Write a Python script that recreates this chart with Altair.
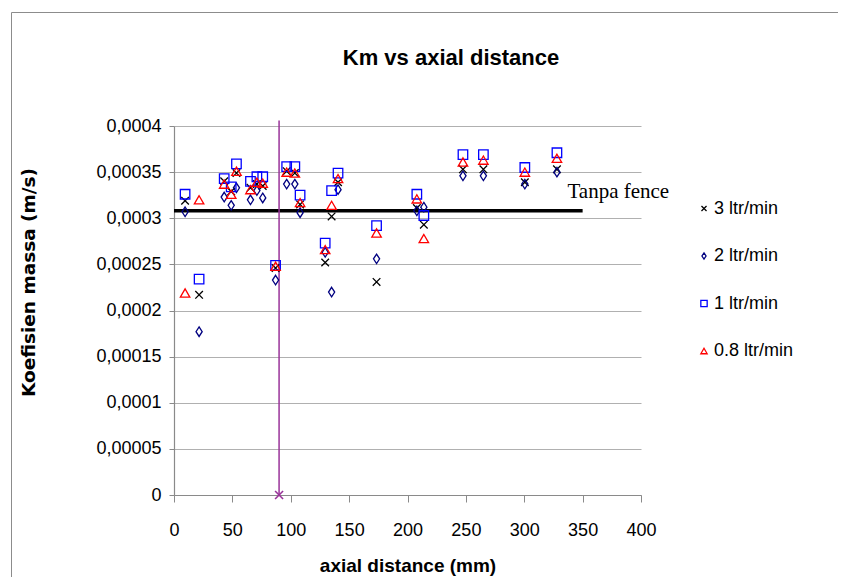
import altair as alt
import pandas as pd

# ---- data ----
axial_mm = [9.5, 21.5, 43, 49, 53.5, 65.5, 71, 76, 87, 96.5, 103.5, 108,
            129.5, 135, 140.5, 173.5, 208, 214, 247.5, 265, 300.5, 328]

km_3 = [3.19, 2.17, 3.40, 3.29, 3.49, 3.33, 3.37, 3.35, 2.46, 3.51, 3.49, 3.15,
        2.52, 3.02, 3.39, 2.31, 3.11, 2.93, 3.53, 3.53, 3.39, 3.53]
km_2 = [3.07, 1.77, 3.23, 3.14, 3.33, 3.20, 3.30, 3.22, 2.33, 3.37, 3.37, 3.06,
        2.63, 2.20, 3.31, 2.56, 3.08, 3.12, 3.46, 3.46, 3.37, 3.50]
km_1 = [3.26, 2.34, 3.43, 3.34, 3.59, 3.40, 3.45, 3.45, 2.49, 3.56, 3.56, 3.25,
        2.73, 3.30, 3.49, 2.92, 3.26, 3.03, 3.69, 3.69, 3.55, 3.71]
km_08 = [2.19, 3.20, 3.37, 3.26, 3.51, 3.31, 3.39, 3.38, 2.48, 3.50, 3.49, 3.17,
         2.66, 3.14, 3.43, 2.84, 3.21, 2.78, 3.61, 3.63, 3.50, 3.65]
scale_factor = 1e-4

series_names = ["3 ltr/min", "2 ltr/min", "1 ltr/min", "0.8 ltr/min"]
series_values = [km_3, km_2, km_1, km_08]
series_colors = ["#000000", "#000080", "#0000FF", "#FF0000"]
series_shapes = ["M-0.8,-0.8L0.8,0.8M0.8,-0.8L-0.8,0.8",
                 "M0,-1L0.65,0L0,1L-0.65,0Z",
                 "square",
                 "triangle-up"]

fence_value = 0.000308
fence_x = [0, 350]
fence_label = "Tanpa fence"
fence_label_pos = (337, 0.000322)

marker_x = 90
marker_top = 0.000406

x_ticks = [0, 50, 100, 150, 200, 250, 300, 350, 400]
y_ticks = [0, 0.00005, 0.0001, 0.00015, 0.0002, 0.00025, 0.0003, 0.00035, 0.0004]

title_text = "Km vs axial distance"
x_title = "axial distance (mm)"
y_title = "Koefisien massa (m/s)"

# ---- tables ----
rows = []
for name, vals in zip(series_names, series_values):
    for xv, yv in zip(axial_mm, vals):
        rows.append({"x": xv, "y": yv * scale_factor, "series": name})
pts = pd.DataFrame(rows)

sans = "Liberation Sans, Arial, sans-serif"

xscale = alt.Scale(domain=[0, 400], nice=False, zero=False)
yscale = alt.Scale(domain=[0, 0.0004], nice=False)

xaxis = alt.Axis(values=x_ticks, title=x_title, grid=False, tickSize=7,
                 labelPadding=19, labelFontSize=18, labelFont=sans,
                 titleFont=sans, titleFontSize=19, titleFontWeight="bold",
                 titleY=76, titleBaseline="alphabetic", labelFlush=False)
yaxis = alt.Axis(values=y_ticks, title=y_title, grid=True, tickSize=5,
                 labelPadding=8, labelFontSize=18, labelFont=sans,
                 labelExpr="replace(format(datum.value, '.5~f'), '.', ',')",
                 titleFont="DejaVu Sans", titleFontSize=18.5,
                 titleFontWeight="bold", titleX=-146, titleY=156,
                 titleAlign="center", titleBaseline="middle", titleAngle=270)

one = alt.Data(values=[{}])
frame_left = alt.Chart(one).mark_rule(color="#8c8c8c", strokeWidth=1).encode(
    x=alt.value(-162.5), y=alt.value(-113.5), y2=alt.value(600))
frame_top = alt.Chart(one).mark_rule(color="#8c8c8c", strokeWidth=1).encode(
    x=alt.value(-162.5), x2=alt.value(700), y=alt.value(-113.5))

title_mark = alt.Chart(one).mark_text(
    text=title_text, font=sans, fontSize=22, fontWeight="bold",
    align="center", baseline="alphabetic", color="#000000"
).encode(x=alt.value(277), y=alt.value(-61))

scatter = alt.Chart(pts).mark_point(filled=False, strokeWidth=1.3, opacity=1,
                                    size=90).encode(
    x=alt.X("x:Q", scale=xscale, axis=xaxis),
    y=alt.Y("y:Q", scale=yscale, axis=yaxis),
    color=alt.Color("series:N",
                    scale=alt.Scale(domain=series_names, range=series_colors),
                    legend=alt.Legend(title=None, orient="none", legendX=521,
                                      legendY=73.5, labelFont=sans,
                                      labelFontSize=18, rowPadding=29.5,
                                      symbolSize=40, labelOffset=1,
                                      symbolStrokeWidth=1.3, padding=0,
                                      labelColor="#000000")),
    shape=alt.Shape("series:N",
                    scale=alt.Scale(domain=series_names, range=series_shapes)),
)

fence_df = pd.DataFrame({"x": [fence_x[0]], "x2": [fence_x[1]], "y": [fence_value]})
fence = alt.Chart(fence_df).mark_rule(color="#000000", strokeWidth=3.5).encode(
    x=alt.X("x:Q", scale=xscale), x2="x2:Q", y=alt.Y("y:Q", scale=yscale)
)

fence_text_df = pd.DataFrame({"x": [fence_label_pos[0]], "y": [fence_label_pos[1]],
                              "t": [fence_label]})
fence_text = alt.Chart(fence_text_df).mark_text(
    font="Liberation Serif", fontSize=21, align="left", baseline="alphabetic",
    color="#000000"
).encode(x=alt.X("x:Q", scale=xscale), y=alt.Y("y:Q", scale=yscale), text="t:N")

purple_df = pd.DataFrame({"x": [marker_x], "y": [0.0], "y2": [marker_top]})
purple_line = alt.Chart(purple_df).mark_rule(color="#993399", strokeWidth=1.5).encode(
    x=alt.X("x:Q", scale=xscale), y=alt.Y("y:Q", scale=yscale), y2="y2:Q"
)
purple_mark = alt.Chart(purple_df).mark_point(
    shape="M-0.8,-0.8L0.8,0.8M0.8,-0.8L-0.8,0.8", size=100, color="#993399",
    strokeWidth=1.6, filled=False, opacity=1
).encode(x=alt.X("x:Q", scale=xscale), y=alt.Y("y:Q", scale=yscale))

chart = alt.layer(frame_left, frame_top, title_mark, fence, purple_line,
                  scatter, purple_mark, fence_text).properties(
    width=467, height=369,
    autosize=alt.AutoSizeParams(type="none"),
    padding={"left": 166, "top": 118, "right": 197, "bottom": 82},
).configure_view(stroke=None).configure_axis(
    domainColor="#8a8a8a", tickColor="#8a8a8a", gridColor="#b0b0b0",
    labelColor="#000000", titleColor="#000000", domainWidth=1.2
)

chart.save("out.html", embed_options={"renderer": "svg", "actions": False})
